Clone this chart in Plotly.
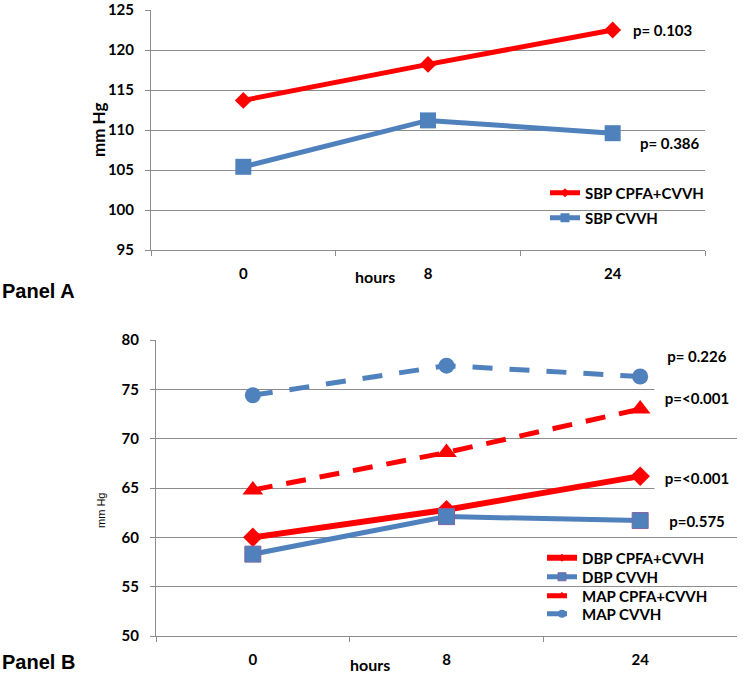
import plotly.graph_objects as go

# data
hours = ["0", "8", "24"]
sbp_cpfa = [113.7, 118.2, 122.5]
sbp_cvvh = [105.4, 111.2, 109.6]
dbp_cpfa = [60.0, 62.8, 66.2]
dbp_cvvh = [58.3, 62.1, 61.7]
map_cpfa = [64.8, 68.6, 73.0]
map_cvvh = [74.4, 77.4, 76.3]
p_a = ["p= 0.103", "p= 0.386"]
p_b = ["p= 0.226", "p=<0.001", "p=<0.001", "p=0.575"]

W, H = 747, 676
RED = "#FF0000"
BLUE = "#4F81BD"
GRID = "#8C8C8C"
FONT = "Lato"

def px(x):
    return x / W

def py(y):
    return 1 - y / H

bold = dict(family=FONT, size=15, color="black", weight="bold")

fig = go.Figure()

# (name, values, axes, line, marker, small legend marker, legend row y)
series = [
    ("SBP CPFA+CVVH", sbp_cpfa, "1", dict(color=RED, width=5),
     dict(symbol="diamond", size=13, color=RED), dict(symbol="diamond", size=7, color=RED), 193),
    ("SBP CVVH", sbp_cvvh, "1", dict(color=BLUE, width=5),
     dict(symbol="square", size=16, color=BLUE), dict(symbol="square", size=9, color=BLUE), 218),
    ("DBP CPFA+CVVH", dbp_cpfa, "2", dict(color=RED, width=6),
     dict(symbol="diamond", size=15, color=RED), dict(symbol="diamond", size=6, color=RED), 558),
    ("DBP CVVH", dbp_cvvh, "2", dict(color=BLUE, width=5),
     dict(symbol="square", size=16, color=BLUE, line=dict(color="#8064A2", width=1)),
     dict(symbol="square", size=8, color=BLUE, line=dict(color="#8064A2", width=1)), 577),
    ("MAP CPFA+CVVH", map_cpfa, "2", dict(color=RED, width=5, dash="20px,14px"),
     dict(symbol="triangle-up", size=18, color=RED), dict(symbol="triangle-up", size=8, color=RED), 596),
    ("MAP CVVH", map_cvvh, "2", dict(color=BLUE, width=5, dash="20px,17px"),
     dict(symbol="circle", size=16, color=BLUE), dict(symbol="circle", size=8, color=BLUE), 614),
]

legends = {}
for i, (name, vals, ax, line, marker, lmarker, row) in enumerate(series):
    xa = "x" if ax == "1" else "x2"
    ya = "y" if ax == "1" else "y2"
    lg = "legend" if i == 0 else "legend%d" % (i + 1)
    fig.add_trace(go.Scatter(x=hours, y=vals, name=name, mode="lines+markers", line=line,
                             marker=marker, xaxis=xa, yaxis=ya, showlegend=False))
    # legend-only entry with the small legend symbol
    fig.add_trace(go.Scatter(x=[None], y=[None], name=name, mode="lines+markers", line=line,
                             marker=lmarker, xaxis=xa, yaxis=ya, legend=lg))
    left = 545 if ax == "1" else 542
    legends[lg] = dict(x=px(left), y=py(row), xanchor="left", yanchor="middle",
                       bgcolor="rgba(0,0,0,0)", font=bold, borderwidth=0)

tickfont = dict(family=FONT, size=15, color="black", weight="bold")
xcommon = dict(type="category", categoryorder="array", categoryarray=hours, range=[-0.5, 2.5],
               tickson="boundaries", ticks="outside", ticklen=5, tickcolor=GRID,
               showline=True, linecolor=GRID, linewidth=1, showgrid=False, zeroline=False,
               tickfont=tickfont, ticklabelstandoff=10, fixedrange=True, automargin=False)
ycommon = dict(dtick=5, ticks="outside", ticklen=5, tickcolor=GRID, showline=True, linecolor=GRID,
               linewidth=1, showgrid=True, gridcolor=GRID, gridwidth=1, zeroline=False,
               tickfont=tickfont, ticklabelstandoff=8, automargin=False)

fig.update_layout(
    width=W, height=H,
    margin=dict(l=0, r=0, t=0, b=0, autoexpand=False),
    paper_bgcolor="white", plot_bgcolor="white",
    xaxis=dict(xcommon, domain=[px(151), px(705)], anchor="y"),
    yaxis=dict(ycommon, domain=[py(250), py(10)], range=[95, 125], anchor="x"),
    xaxis2=dict(xcommon, domain=[px(156), px(737)], anchor="y2"),
    yaxis2=dict(ycommon, domain=[py(636), py(340)], range=[50, 80], anchor="x2"),
    **legends,
)

ann = []
# p-values panel A
ann.append(dict(text=p_a[0], x=px(632), y=py(30), xanchor="left"))
ann.append(dict(text=p_a[1], x=px(639), y=py(143), xanchor="left"))
# p-values panel B (white boxes hide the grid behind them)
ann.append(dict(text=p_b[0], x=px(654), y=py(355), xanchor="left", width=84, height=31, bgcolor="white"))
ann.append(dict(text=p_b[1], x=px(654), y=py(398), xanchor="left", width=84, height=30, bgcolor="white"))
ann.append(dict(text=p_b[2], x=px(654), y=py(478), xanchor="left", width=84, height=30, bgcolor="white"))
ann.append(dict(text=p_b[3], x=px(654), y=py(521), xanchor="left", width=84, height=24))
for a in ann:
    a.update(xref="paper", yref="paper", showarrow=False, font=bold, yanchor="middle", borderpad=0)

extra = [
    dict(text="hours", x=px(375), y=py(277), font=dict(bold, size=16)),
    dict(text="hours", x=px(370), y=py(664), font=dict(bold, size=16)),
    dict(text="mm Hg", x=px(98), y=py(130), textangle=-90, font=dict(bold, size=17)),
    dict(text="mm Hg", x=px(101), y=py(510), textangle=-90,
         font=dict(family="Liberation Sans Narrow, Liberation Sans", size=11, color="black")),
    dict(text="Panel A", x=0, y=py(291), xanchor="left",
         font=dict(family="Liberation Sans", size=20, color="black", weight="bold")),
    dict(text="Panel B", x=0, y=py(662), xanchor="left",
         font=dict(family="Liberation Sans", size=20, color="black", weight="bold")),
]
for a in extra:
    a.setdefault("xanchor", "center")
    a.update(xref="paper", yref="paper", showarrow=False, yanchor="middle")
    ann.append(a)

fig.update_layout(annotations=ann)

fig.write_html("out.html", config={"displayModeBar": False},
               post_script="document.body.style.margin='0';")
